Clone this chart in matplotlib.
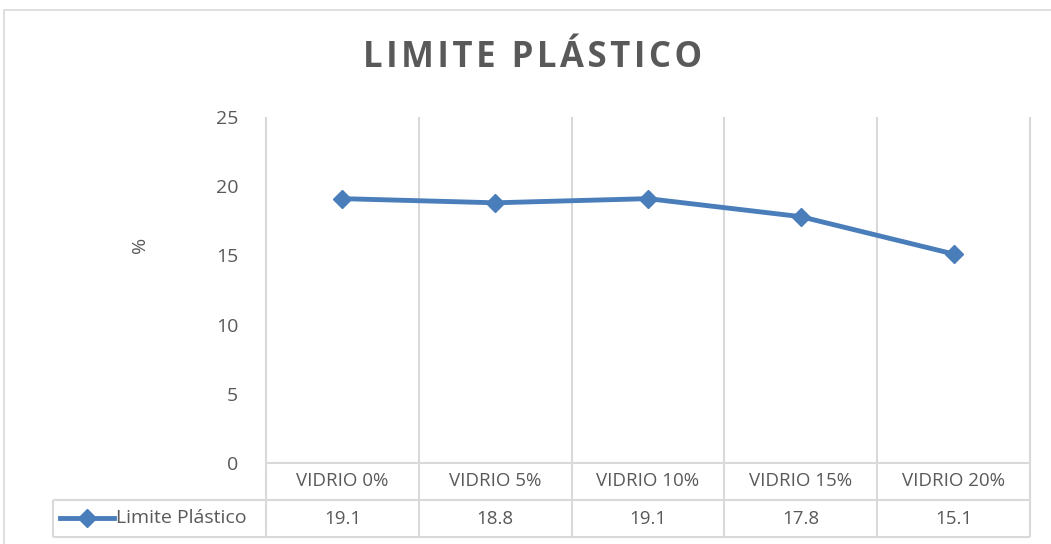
import numpy as np
import matplotlib.pyplot as plt
from matplotlib.lines import Line2D
from matplotlib.patches import Rectangle

plt.rcParams['font.family'] = ['Open Sans', 'DejaVu Sans']

categorias = ['VIDRIO 0%', 'VIDRIO 5%', 'VIDRIO 10%', 'VIDRIO 15%', 'VIDRIO 20%']
limite_plastico = [19.1, 18.8, 19.1, 17.8, 15.1]
serie = 'Limite Plástico'

azul = '#4a7ebb'
gris_txt = '#595959'
gris_lin = '#d9d9d9'

W, H = 1051, 544
fig = plt.figure(figsize=(W / 100, H / 100), dpi=100)

# marco exterior del gráfico
fig.patches.append(Rectangle((4 / W, -0.05), 1.2, 1 - 10 / H + 0.05,
                             transform=fig.transFigure, fill=False,
                             edgecolor=gris_lin, linewidth=1.2))

x0, x1, ytop, ybot = 266, 1030, 117, 463
ax = fig.add_axes([x0 / W, 1 - ybot / H, (x1 - x0) / W, (ybot - ytop) / H])

x = np.arange(len(categorias))
ax.plot(x, limite_plastico, color=azul, linewidth=3.5, marker='D',
        markersize=9, zorder=3)

ax.set_xlim(-0.5, len(categorias) - 0.5)
ax.set_ylim(0, 25)
ax.set_yticks([0, 5, 10, 15, 20, 25])
ax.set_xticks([])
ax.tick_params(axis='y', length=0, pad=20, labelsize=14, labelcolor=gris_txt)
for s in ax.spines.values():
    s.set_visible(False)

fig.text(140 / W, 1 - 245 / H, '%', rotation=90, ha='center', va='center',
         fontsize=14, color=gris_txt)

# tabla de datos bajo el eje
px = 1 / (ybot - ytop)
fila = 37 * px
trans = ax.get_xaxis_transform()
bordes = np.arange(len(categorias) + 1) - 0.5
izq = -0.5 - (x0 - 53) / ((x1 - x0) / len(categorias))

ax.vlines(bordes, -2 * fila, 1, transform=trans, colors=gris_lin,
          linewidth=1.5, clip_on=False, zorder=1)
ax.hlines([0, -fila], bordes[0], bordes[-1], transform=trans,
          colors=gris_lin, linewidth=1.5, clip_on=False)
ax.hlines(-fila, izq, bordes[0], transform=trans, colors=gris_lin,
          linewidth=1.5, clip_on=False)
ax.hlines(-2 * fila, izq, bordes[-1], transform=trans, colors=gris_lin,
          linewidth=1.5, clip_on=False)
ax.vlines(izq, -2 * fila, -fila, transform=trans, colors=gris_lin,
          linewidth=1.5, clip_on=False)

for i, (cat, val) in enumerate(zip(categorias, limite_plastico)):
    ax.text(i, -0.5 * fila, cat, transform=trans, ha='center', va='center',
            fontsize=13.5, color=gris_txt)
    ax.text(i, -1.5 * fila, f'{val:.1f}', transform=trans, ha='center',
            va='center', fontsize=13.5, color=gris_txt)

# clave de la leyenda dentro de la tabla
yk = 1 - 518 / H
fig.add_artist(Line2D([60 / W, 114 / W], [yk, yk], color=azul, linewidth=3.5,
                      transform=fig.transFigure))
fig.add_artist(Line2D([87 / W], [yk], color=azul, marker='D', markersize=9,
                      linestyle='none', transform=fig.transFigure))
fig.text(116 / W, yk, serie, ha='left', va='center', fontsize=14,
         color=gris_txt)

fig.text(533 / W, 1 - 58 / H, '\u200a'.join('LIMITE PLÁSTICO'),
         ha='center', va='center', fontsize=25, fontweight='bold',
         color=gris_txt)

fig.savefig('out.png', dpi=100)
